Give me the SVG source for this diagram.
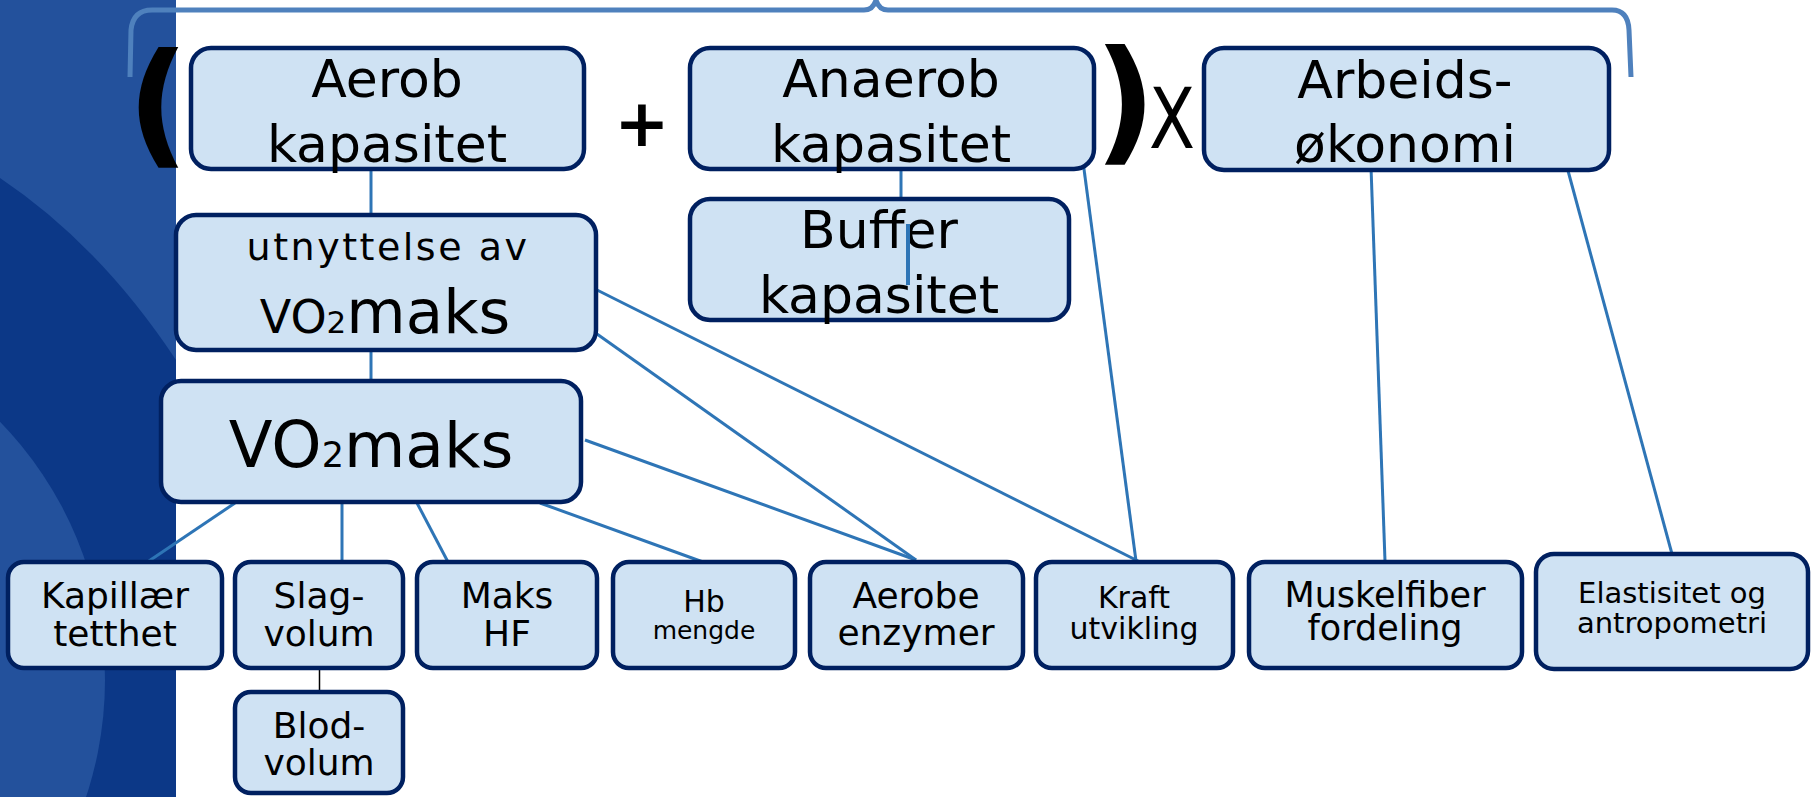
<svg xmlns="http://www.w3.org/2000/svg" width="1812" height="797" viewBox="0 0 1812 797">
<style>
.box{fill:#cfe2f3;stroke:#002060;stroke-width:4.5}
.t{font-family:"DejaVu Sans",sans-serif;fill:#000;text-anchor:middle}
.c{stroke:#2e75b6;stroke-width:3;fill:none}
.sym{font-family:"DejaVu Sans",sans-serif;fill:#000;text-anchor:middle}
</style>
<rect x="0" y="0" width="1812" height="797" fill="#ffffff"/>
<g id="panel">
<rect x="0" y="0" width="176" height="797" fill="#23519c"/>
<path d="M0,178 Q100,245 176,360 L176,797 L0,797 Z" fill="#0c3887"/>
<clipPath id="pc"><rect x="0" y="0" width="176" height="797"/></clipPath>
<circle cx="-265" cy="680" r="370" fill="#23519c" clip-path="url(#pc)"/>
</g>
<g id="bracket">
<path d="M130,77 L131,30 Q133,10 152,10 L864,10 Q873,10 876,0 Q879,10 888,10 L1612,10 Q1628,10 1629,30 L1631,77" fill="none" stroke="#4f81bd" stroke-width="5"/>
</g>
<g id="connectors">
<line class="c" x1="371" y1="169" x2="371" y2="215"/>
<line class="c" x1="371" y1="350" x2="371" y2="381"/>
<line class="c" x1="901" y1="169" x2="901" y2="199" stroke="#4a7ebb"/>
<line class="c" x1="597" y1="290" x2="1140" y2="562"/>
<line class="c" x1="597" y1="334" x2="916" y2="560"/>
<line class="c" x1="585" y1="440" x2="916" y2="560"/>
<line class="c" x1="1082" y1="154" x2="1136" y2="561"/>
<line class="c" x1="540" y1="503" x2="703" y2="562"/>
<line class="c" x1="417" y1="503" x2="448" y2="562"/>
<line class="c" x1="342" y1="503" x2="342" y2="562"/>
<line class="c" x1="235" y1="503" x2="146" y2="563"/>
<line x1="319.5" y1="669" x2="319.5" y2="692" stroke="#000" stroke-width="1.5"/>
<line class="c" x1="1371" y1="167" x2="1385" y2="561"/>
<line class="c" x1="1567" y1="167" x2="1672" y2="554"/>
</g>
<g id="symbols">
<text class="sym" x="158" y="150" font-size="136" font-weight="bold">(</text>
<text class="sym" x="642" y="146" font-size="66" font-weight="bold">+</text>
<text class="sym" x="1125" y="147" font-size="136" font-weight="bold">)</text>
<text class="sym" x="1172" y="148" font-size="84" textLength="46" lengthAdjust="spacingAndGlyphs">X</text>
</g>
<g id="aerob">
<rect class="box" x="191" y="48" width="393" height="121" rx="20"/>
<text class="t" x="387" y="97" font-size="52">Aerob</text>
<text class="t" x="387" y="162" font-size="52">kapasitet</text>
</g>
<g id="anaerob">
<rect class="box" x="690" y="48" width="404" height="121" rx="20"/>
<text class="t" x="891" y="97" font-size="52">Anaerob</text>
<text class="t" x="891" y="162" font-size="52">kapasitet</text>
</g>
<g id="arbeids">
<rect class="box" x="1204" y="48" width="405" height="122" rx="20"/>
<text class="t" x="1405" y="98" font-size="52">Arbeids-</text>
<text class="t" x="1405" y="162" font-size="52">økonomi</text>
</g>
<g id="buffer">
<rect class="box" x="690" y="199" width="379" height="121" rx="20"/>
<text class="t" x="879" y="248" font-size="52">Buffer</text>
<text class="t" x="879" y="313" font-size="52">kapasitet</text>
<line x1="908" y1="224" x2="908" y2="285" stroke="#2e75b6" stroke-width="4"/>
</g>
<g id="utnyttelse">
<rect class="box" x="176" y="215" width="420" height="135" rx="20"/>
<text class="t" x="388" y="260" font-size="38" letter-spacing="2.5">utnyttelse av</text>
<text class="t" x="385" y="333"><tspan font-size="46">VO</tspan><tspan font-size="31">2</tspan><tspan font-size="61">maks</tspan></text>
</g>
<g id="vo2maks">
<rect class="box" x="161" y="381" width="420" height="121" rx="20"/>
<text class="t" x="371" y="467"><tspan font-size="64">VO</tspan><tspan font-size="35">2</tspan><tspan font-size="63">maks</tspan></text>
</g>
<g id="kapillaer">
<rect class="box" x="8" y="562" width="214" height="106" rx="16"/>
<text class="t" x="115" y="608" font-size="36">Kapillær</text>
<text class="t" x="115" y="646" font-size="36">tetthet</text>
</g>
<g id="slag">
<rect class="box" x="235" y="562" width="168" height="106" rx="16"/>
<text class="t" x="319" y="608" font-size="36">Slag-</text>
<text class="t" x="319" y="646" font-size="36">volum</text>
</g>
<g id="blod">
<rect class="box" x="235" y="692" width="168" height="101" rx="16"/>
<text class="t" x="319" y="738" font-size="36">Blod-</text>
<text class="t" x="319" y="775" font-size="36">volum</text>
</g>
<g id="makshf">
<rect class="box" x="417" y="562" width="180" height="106" rx="16"/>
<text class="t" x="507" y="608" font-size="36">Maks</text>
<text class="t" x="507" y="646" font-size="36">HF</text>
</g>
<g id="hb">
<rect class="box" x="613" y="562" width="182" height="106" rx="16"/>
<text class="t" x="704" y="612" font-size="30">Hb</text>
<text class="t" x="704" y="639" font-size="25">mengde</text>
</g>
<g id="aerobe">
<rect class="box" x="810" y="562" width="213" height="106" rx="16"/>
<text class="t" x="916" y="608" font-size="36">Aerobe</text>
<text class="t" x="916" y="645" font-size="36">enzymer</text>
</g>
<g id="kraft">
<rect class="box" x="1036" y="562" width="197" height="106" rx="16"/>
<text class="t" x="1134" y="608" font-size="30">Kraft</text>
<text class="t" x="1134" y="639" font-size="30">utvikling</text>
</g>
<g id="muskelfiber">
<rect class="box" x="1249" y="562" width="273" height="106" rx="16"/>
<text class="t" x="1385" y="607" font-size="35">Muskelfiber</text>
<text class="t" x="1385" y="640" font-size="35">fordeling</text>
</g>
<g id="elastisitet">
<rect class="box" x="1536" y="554" width="272" height="115" rx="18"/>
<text class="t" x="1672" y="603" font-size="29">Elastisitet og</text>
<text class="t" x="1672" y="633" font-size="29">antropometri</text>
</g>
</svg>
